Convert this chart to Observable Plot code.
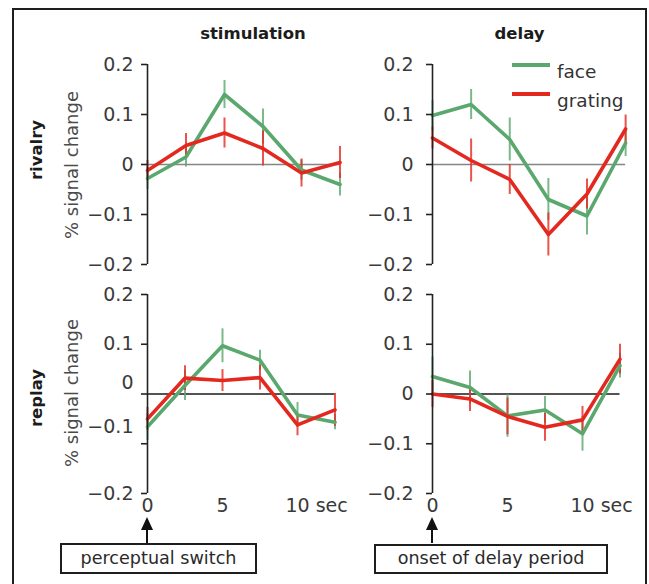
<!DOCTYPE html>
<html><head><meta charset="utf-8">
<script src="https://cdn.jsdelivr.net/npm/d3@7"></script>
<script src="https://cdn.jsdelivr.net/npm/@observablehq/plot@0.6"></script>
<style>
html,body{margin:0;padding:0;background:#fff;}
body{width:649px;height:584px;position:relative;overflow:hidden;font-family:"DejaVu Sans",sans-serif;}
.frame{position:absolute;left:12px;top:8px;width:635px;height:640px;box-sizing:border-box;border:2px solid #1e1e1e;}
.lbl{position:absolute;white-space:nowrap;line-height:1;}
.box{position:absolute;box-sizing:border-box;border:2px solid #1e1e1e;background:#fff;display:flex;align-items:center;justify-content:center;font-size:17.6px;color:#2a2a2a;line-height:1;}
.pan{position:absolute;}
</style></head><body>
<div class="frame"></div>
<script>
// ---------- data ----------
const times = [0, 2.5, 5, 7.5, 10, 12.5];
const series = ["face", "grating"];
const colors = ["#5aa86e", "#e3291f"];
const columns = ["stimulation", "delay"];
const rows = ["rivalry", "replay"];
const yTicks = [-0.2, -0.1, 0, 0.1, 0.2];
const xTicks = [0, 5];
const xTickLabels = ["0", "5"];
const xEndTick = 10;
const xEndLabel = "10 sec";
const yLabel = "% signal change";
const events = ["perceptual switch", "onset of delay period"];

// rivalry / stimulation
const rivStimFace = [-0.028, 0.015, 0.14, 0.076, -0.011, -0.04];
const rivStimFaceErr = [0.022, 0.02, 0.028, 0.035, 0.02, 0.023];
const rivStimGrating = [-0.012, 0.038, 0.063, 0.032, -0.017, 0.004];
const rivStimGratingErr = [0.02, 0.024, 0.03, 0.035, 0.028, 0.032];
// rivalry / delay
const rivDelFace = [0.098, 0.12, 0.05, -0.07, -0.103, 0.043];
const rivDelFaceErr = [0.03, 0.03, 0.043, 0.042, 0.038, 0.027];
const rivDelGrating = [0.053, 0.008, -0.03, -0.14, -0.059, 0.071];
const rivDelGratingErr = [0.022, 0.043, 0.03, 0.043, 0.03, 0.028];
// replay / stimulation
const repStimFace = [-0.066, 0.017, 0.097, 0.068, -0.042, -0.057];
const repStimFaceErr = [0.027, 0.03, 0.034, 0.02, 0.025, 0.015];
const repStimGrating = [-0.05, 0.032, 0.027, 0.033, -0.062, -0.032];
const repStimGratingErr = [0.023, 0.025, 0.022, 0.025, 0.022, 0.033];
// replay / delay
const repDelFace = [0.035, 0.013, -0.044, -0.032, -0.08, 0.057];
const repDelFaceErr = [0.039, 0.033, 0.043, 0.027, 0.035, 0.025];
const repDelGrating = [0.0, -0.01, -0.045, -0.067, -0.052, 0.07];
const repDelGratingErr = [0.027, 0.025, 0.037, 0.028, 0.027, 0.03];

// ---------- layout ----------
const geo = {
  axisX: [147, 432],
  top: [64, 294],
  bottom: [264, 493],
  pps: [[15.4, 15.45], [15.0, 15.0]],
  labelPad: [8, 13]
};
const panels = [
  {row: 0, col: 0, values: [rivStimFace, rivStimGrating], errors: [rivStimFaceErr, rivStimGratingErr]},
  {row: 0, col: 1, values: [rivDelFace, rivDelGrating], errors: [rivDelFaceErr, rivDelGratingErr]},
  {row: 1, col: 0, values: [repStimFace, repStimGrating], errors: [repStimFaceErr, repStimGratingErr]},
  {row: 1, col: 1, values: [repDelFace, repDelGrating], errors: [repDelFaceErr, repDelGratingErr]}
];
const fmt = d => d === 0 ? "0" : d3.format(".1f")(d);
const font = "DejaVu Sans, sans-serif";
const tickFont = 19;
const arrowXs = [];

panels.forEach(p => {
  const table = [];
  series.forEach((s, i) => times.forEach((t, j) =>
    table.push({series: s, t, v: p.values[i][j], e: p.errors[i][j]})));
  const mL = 70, mT = 20, mR = 45, mB = p.row === 1 ? 30 : 10;
  const plotW = (times[times.length - 1] - times[0]) * geo.pps[p.row][p.col];
  const plotH = geo.bottom[p.row] - geo.top[p.row];
  const width = mL + plotW + mR, height = mT + plotH + mB;
  const left = geo.axisX[p.col] - mL, top = geo.top[p.row] - mT;
  const pad = geo.labelPad[p.col];
  // odd label placement of the lower-left panel in the original
  const shift = (p.row === 1 && p.col === 0) ? new Map([[0, -11.5], [-0.1, -16.5]]) : new Map();

  const marks = [
    Plot.ruleY([0], {stroke: p.row === 0 ? "#858585" : "#1a1a1a", strokeWidth: 1.5}),
    Plot.ruleX(table, {x: "t", y1: d => d.v - d.e, y2: d => d.v + d.e, stroke: "series", strokeWidth: 2, strokeOpacity: 0.8}),
    Plot.line(table, {x: "t", y: "v", z: "series", stroke: "series", strokeWidth: 3.6}),
    Plot.ruleX([times[0]], {y1: yTicks[0], y2: yTicks[yTicks.length - 1], stroke: "#222", strokeWidth: 1.6}),
    Plot.axisY({ticks: yTicks, label: null, tickSize: 6, tickPadding: pad, strokeWidth: 1.6, stroke: "#222", fill: "#3a3a3a",
      fontSize: tickFont, fontFamily: font, tickFormat: d => shift.has(d) ? "" : fmt(d)})
  ];
  shift.forEach((dy, v) => marks.push(
    Plot.axisY({ticks: [v], label: null, tickSize: 0, tickPadding: pad + 6, dy, fill: "#3a3a3a", fontSize: tickFont, fontFamily: font, tickFormat: fmt})));
  if (p.row === 1) {
    marks.push(Plot.text(xTicks, {x: d => d, y: () => yTicks[0], text: (d, i) => xTickLabels[i], dy: 12.5,
      fill: "#3a3a3a", fontSize: tickFont, fontFamily: font}));
    marks.push(Plot.text([xEndTick], {x: d => d, y: () => yTicks[0], text: () => xEndLabel, dy: 12.5, dx: -12,
      textAnchor: "start", fill: "#3a3a3a", fontSize: tickFont, fontFamily: font}));
  }
  const plot = Plot.plot({
    width, height, marginLeft: mL, marginRight: mR, marginTop: mT, marginBottom: mB,
    x: {domain: [times[0], times[times.length - 1]], axis: null},
    y: {domain: [yTicks[0], yTicks[yTicks.length - 1]], axis: null},
    color: {domain: series, range: colors},
    style: {background: "transparent", overflow: "visible", fontFamily: font, fontSize: tickFont + "px", color: "#333"},
    marks
  });
  const div = document.createElement("div");
  div.className = "pan";
  div.style.left = left + "px"; div.style.top = top + "px";
  div.style.width = width + "px"; div.style.height = height + "px";
  div.appendChild(plot);
  document.body.appendChild(div);
  if (p.row === 1) arrowXs[p.col] = left + plot.scale("x").apply(times[0]);
});

// ---------- text labels ----------
function label(text, x, y, opts) {
  const d = document.createElement("div");
  d.className = "lbl";
  d.textContent = text;
  d.style.left = x + "px"; d.style.top = y + "px";
  d.style.fontSize = opts.size + "px";
  d.style.fontWeight = opts.bold ? "bold" : "normal";
  d.style.color = opts.color || "#222";
  d.style.transform = "translate(-50%,-50%)" + (opts.rot ? " rotate(-90deg)" : "");
  document.body.appendChild(d);
}
label(columns[0], 253, 33.5, {size: 16.5, bold: true, color: "#1c1c1c"});
label(columns[1], 519.5, 33.5, {size: 16.5, bold: true, color: "#1c1c1c"});
label(rows[0], 36.5, 150, {size: 16.5, bold: true, rot: true, color: "#1c1c1c"});
label(rows[1], 36.5, 398, {size: 16.5, bold: true, rot: true, color: "#1c1c1c"});
label(yLabel, 71.5, 165, {size: 18, rot: true, color: "#4a4a4a"});
label(yLabel, 72, 393, {size: 18, rot: true, color: "#4a4a4a"});

// ---------- overlay: legend + arrows ----------
const ov = d3.select(document.body).append("svg")
  .attr("width", 649).attr("height", 584)
  .style("position", "absolute").style("left", "0px").style("top", "0px")
  .style("pointer-events", "none");
series.forEach((s, i) => {
  const y = 65 + i * 29;
  ov.append("line").attr("x1", 512).attr("x2", 550).attr("y1", y).attr("y2", y)
    .attr("stroke", colors[i]).attr("stroke-width", 4);
  ov.append("text").attr("x", 557).attr("y", y + 12.5).text(s)
    .attr("font-family", font).attr("font-size", 18.5).attr("fill", "#333");
});
arrowXs.forEach(ax => {
  ov.append("line").attr("x1", ax).attr("x2", ax).attr("y1", 543).attr("y2", 527)
    .attr("stroke", "#111").attr("stroke-width", 2);
  ov.append("path").attr("d", `M${ax - 6},${530} L${ax + 6},${530} L${ax},${517} Z`).attr("fill", "#111");
});

// ---------- event boxes ----------
const boxes = [[60, 543, 197, 31], [374, 544, 234, 30]];
events.forEach((t, i) => {
  const b = document.createElement("div");
  b.className = "box";
  const [x, y, w, h] = boxes[i];
  b.style.left = x + "px"; b.style.top = y + "px";
  b.style.width = w + "px"; b.style.height = h + "px";
  b.textContent = t;
  document.body.appendChild(b);
});
</script>
</body></html>
